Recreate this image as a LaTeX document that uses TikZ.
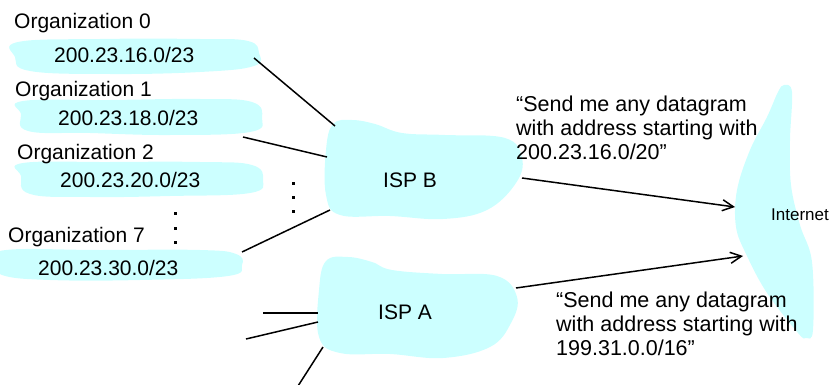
\documentclass[tikz,border=0pt]{standalone}
\usepackage{fontspec}
\setmainfont{Liberation Sans}
\usetikzlibrary{arrows.meta}
\definecolor{blob}{RGB}{204,255,255}
\begin{document}
\begin{tikzpicture}[x=1pt,y=-1pt,
  cloud/.style={fill=blob,draw=none},
  lbl/.style={inner sep=0pt,anchor=base west,font=\fontsize{21}{24}\selectfont},
  small/.style={inner sep=0pt,anchor=base west,font=\fontsize{17}{20}\selectfont},
  quote/.style={inner sep=0pt,anchor=north west,align=left,font=\fontsize{21.5}{24}\selectfont},
  link/.style={line width=1.5pt},
  arr/.style={link,-{Straight Barb[length=11pt,width=11pt,line width=1.5pt]}},
  dotmark/.style={fill=black,minimum size=3pt,inner sep=0pt,draw=none}]
\useasboundingbox (0,0) rectangle (832,385);

% blobs
\path[cloud] plot[smooth cycle,tension=0.7] coordinates {(18,42) (100,39) (200,39) (248,41) (259,53) (254,66) (200,72) (110,74) (30,71) (15,57)};
\path[cloud] plot[smooth cycle,tension=0.7] coordinates {(23,101) (110,100) (200,99) (252,102) (262,118) (250,132) (170,135) (90,133) (28,131) (21,114)};
\path[cloud] plot[smooth cycle,tension=0.7] coordinates {(23,163) (110,162) (200,162) (252,165) (263,180) (250,193) (170,196) (90,197) (30,194) (21,176)};
\path[cloud] plot[smooth cycle,tension=0.7] coordinates {(6,250) (100,250) (200,250) (236,254) (242,265) (228,276) (140,280) (50,280) (2,275) (-2,262)};
% ISP B
\path[cloud] plot[smooth cycle,tension=0.65] coordinates {(333,124) (352,120) (375,124) (402,133) (445,135) (505,138) (522,158) (516,183) (487,210) (443,219) (390,216) (340,215) (326,195) (326,150)};
% ISP A
\path[cloud] plot[smooth cycle,tension=0.65] coordinates {(326,261) (348,257) (372,262) (392,270) (442,274) (497,276) (517,297) (511,323) (490,347) (443,358) (390,354) (340,353) (319,337) (319,290)};
% Internet
\path[cloud] plot[smooth cycle,tension=0.6] coordinates {(784,85) (792,92) (790,140) (791,185) (800,225) (812,262) (813,330) (806,338) (798,333) (767,293) (747,256) (736,227) (737,190) (750,150) (767,117) (778,92)};

% labels
\node[lbl] (org0) at (14,29) {Organization 0};
\node[lbl] (net0) at (54,63) {200.23.16.0/23};
\node[lbl] (org1) at (15,97) {Organization 1};
\node[lbl] (net1) at (58,125) {200.23.18.0/23};
\node[lbl] (org2) at (17,159) {Organization 2};
\node[lbl] (net2) at (60,187) {200.23.20.0/23};
\node[lbl] (org7) at (8,242) {Organization 7};
\node[lbl] (net7) at (38,275) {200.23.30.0/23};
\node[lbl] (ispb) at (383,187) {ISP B};
\node[lbl] (ispa) at (378,319) {ISP A};
\node[small] (inet) at (771,220) {Internet};
\node[quote] (qb) at (516,96) {“Send me any datagram\\with address starting with\\200.23.16.0/20”};
\node[quote] (qa) at (556,292) {“Send me any datagram\\with address starting with\\199.31.0.0/16”};

% dots
\node[dotmark] (dl1) at (175,213) {};
\node[dotmark] (dl2) at (175,228) {};
\node[dotmark] (dl3) at (175,242) {};
\node[dotmark] (dr1) at (293,183) {};
\node[dotmark] (dr2) at (293,197) {};
\node[dotmark] (dr3) at (293,211) {};

% connector ends
\coordinate (o0e) at (254,58);  \coordinate (bi0) at (335,126);
\coordinate (o1e) at (243,137); \coordinate (bi1) at (327,157);
\coordinate (o7e) at (242,252); \coordinate (bi7) at (330,210);
\coordinate (bo) at (522,178);  \coordinate (inB) at (735,207);
\coordinate (ao) at (516,288);  \coordinate (inA) at (743,256);
\coordinate (ai1) at (318,313); \coordinate (x1) at (263,313);
\coordinate (ai2) at (318,322); \coordinate (x2) at (246,339);
\coordinate (ai3) at (323,347); \coordinate (x3) at (298,386);

\draw[link] (o0e) -- (bi0);
\draw[link] (o1e) -- (bi1);
\draw[link] (o7e) -- (bi7);
\draw[arr] (bo) -- (inB);
\draw[arr] (ao) -- (inA);
\draw[link] (x1) -- (ai1);
\draw[link] (x2) -- (ai2);
\draw[link] (ai3) -- (x3);
\end{tikzpicture}
\end{document}
